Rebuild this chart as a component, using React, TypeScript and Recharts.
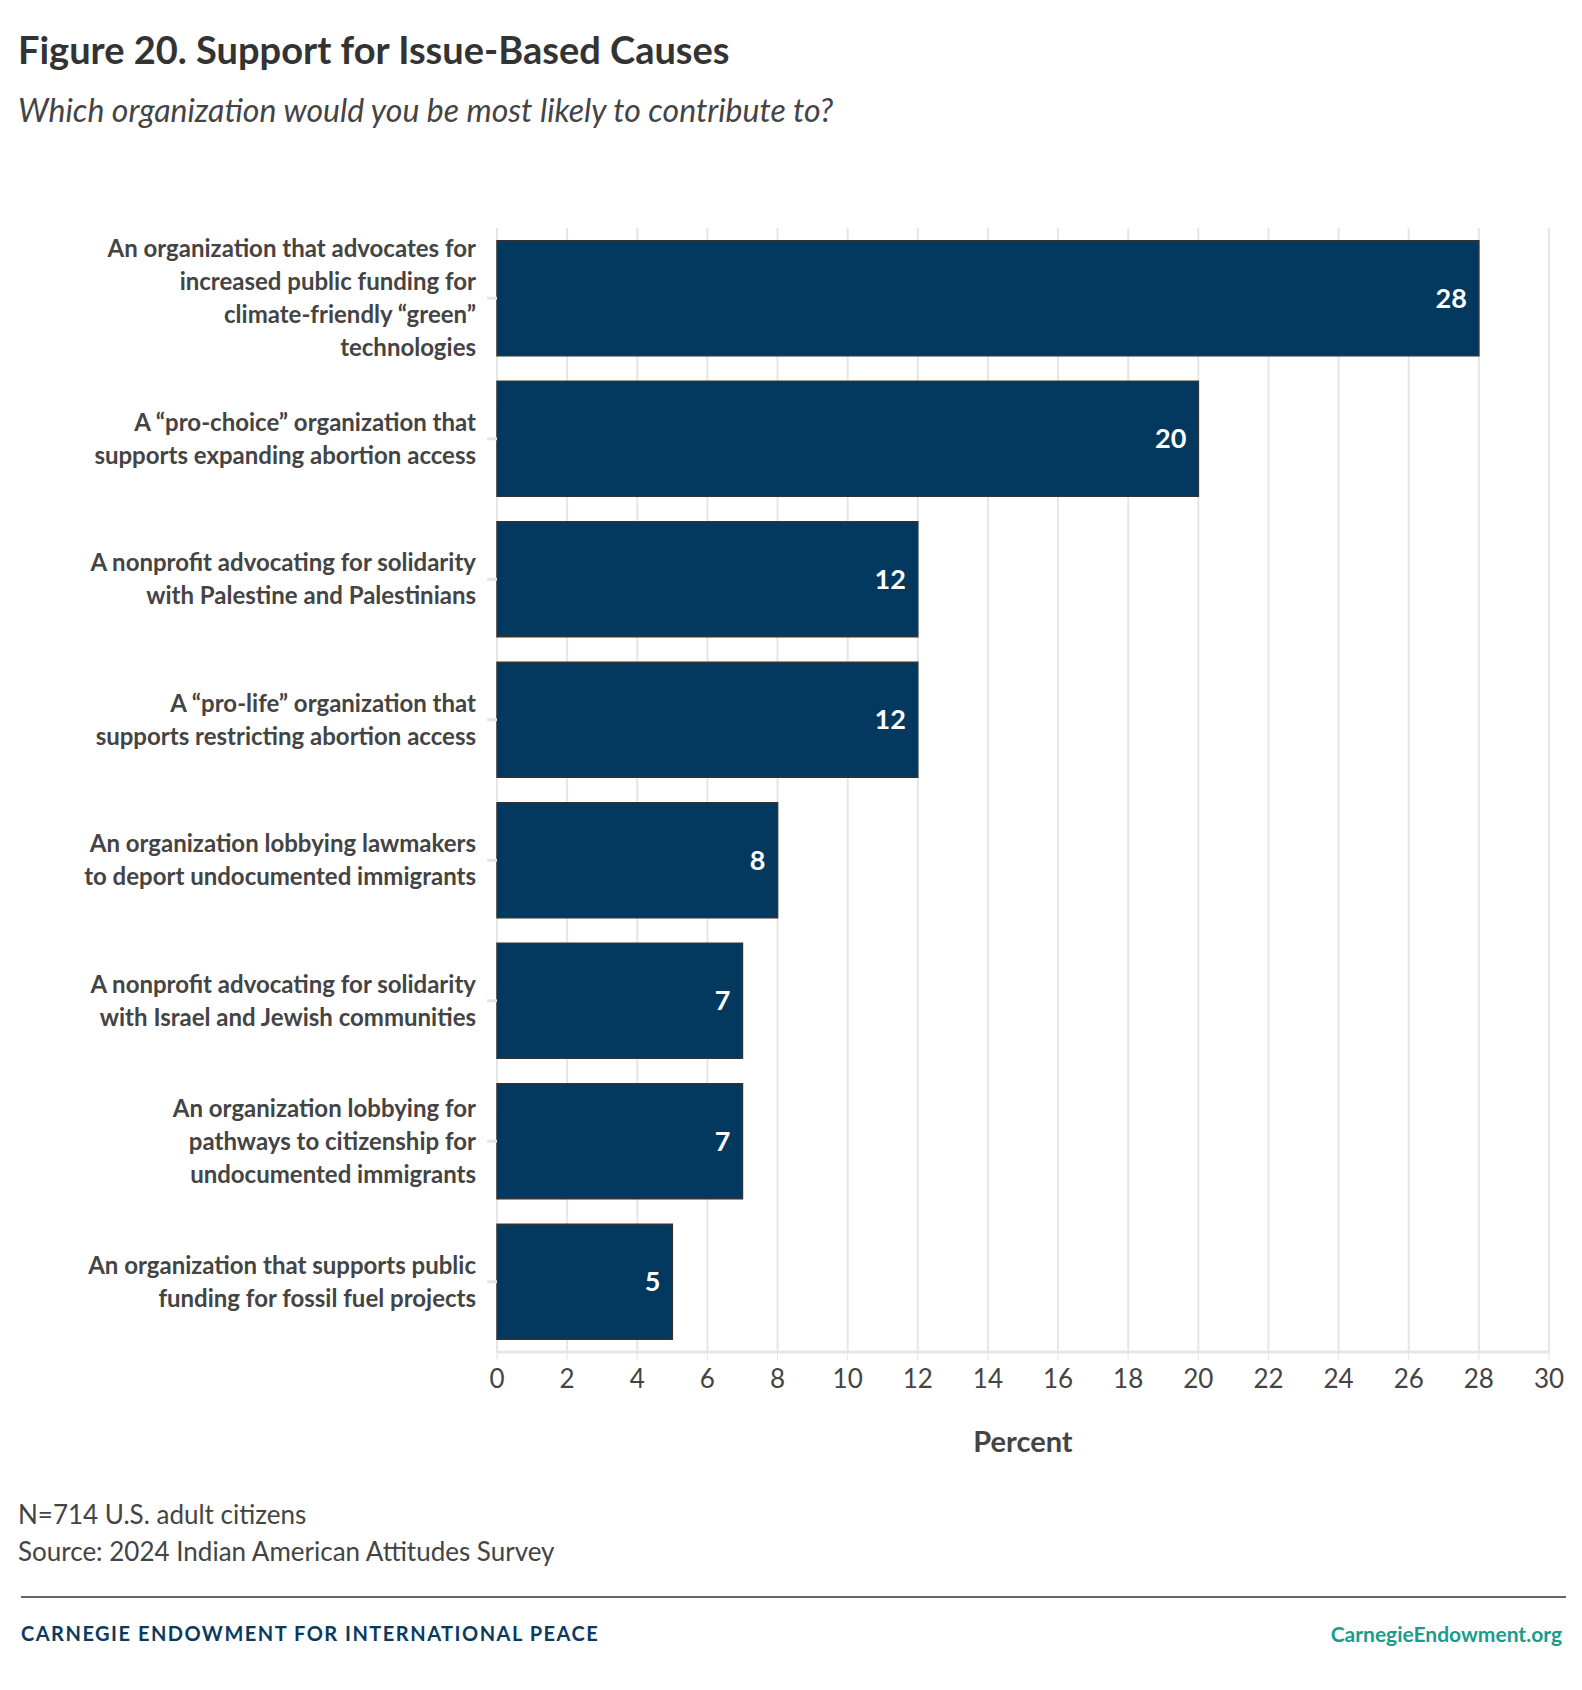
import React from 'react';
import { BarChart, Bar, XAxis, YAxis, CartesianGrid, LabelList } from 'recharts';

const categories = [
  'An organization that advocates for|increased public funding for|climate-friendly “green”|technologies',
  'A “pro-choice” organization that|supports expanding abortion access',
  'A nonprofit advocating for solidarity|with Palestine and Palestinians',
  'A “pro-life” organization that|supports restricting abortion access',
  'An organization lobbying lawmakers|to deport undocumented immigrants',
  'A nonprofit advocating for solidarity|with Israel and Jewish communities',
  'An organization lobbying for|pathways to citizenship for|undocumented immigrants',
  'An organization that supports public|funding for fossil fuel projects',
];
const values = [28, 20, 12, 12, 8, 7, 7, 5];
const xTicks = [0, 2, 4, 6, 8, 10, 12, 14, 16, 18, 20, 22, 24, 26, 28, 30];

const data = categories.map((c, i) => ({ name: c, value: values[i] }));
const font = 'Lato, "Open Sans", sans-serif';

const YTick = ({ y, payload }: any) => {
  const lines = String(payload.value).split('|');
  const lh = 33;
  const start = y - ((lines.length - 1) * lh) / 2;
  return (
    <text textAnchor="end" fontFamily={font} fontWeight={700} fontSize={24} fill="#444">
      {lines.map((l, i) => (
        <tspan key={i} x={476} y={start + i * lh} dy="0.35em">{l}</tspan>
      ))}
    </text>
  );
};

export default function App() {
  return (
    <div style={{ position: 'absolute', left: 0, top: 0, width: 1582, height: 1690, background: '#fff', fontFamily: font }}>
      <div style={{ position: 'absolute', left: 18, top: 26, fontSize: 38, fontWeight: 700, color: '#333' }}>
        Figure 20. Support for Issue-Based Causes
      </div>
      <div style={{ position: 'absolute', left: 18, top: 90, fontSize: 32, fontStyle: 'italic', color: '#444' }}>
        Which organization would you be most likely to contribute to?
      </div>
      <div style={{ position: 'absolute', left: 0, top: 0 }}>
        <BarChart width={1582} height={1460} data={data} layout="vertical" barCategoryGap="9%"
          margin={{ top: 228, right: 33, bottom: 0, left: 0 }}>
          <CartesianGrid horizontal={false} stroke="#e6e6e6" strokeWidth={2} />
          <XAxis type="number" domain={[0, 30]} ticks={xTicks} height={108}
            axisLine={{ stroke: '#e6e6e6', strokeWidth: 3 }} tickLine={{ stroke: '#e6e6e6' }} tickSize={8}
            tick={{ fill: '#444', fontSize: 26, fontFamily: font }} tickMargin={10}
            label={{ value: 'Percent', position: 'insideBottom', offset: 8, fill: '#444', fontSize: 29, fontWeight: 700, fontFamily: font }} />
          <YAxis type="category" dataKey="name" width={497} tick={<YTick />}
            axisLine={false} tickLine={{ stroke: '#e6e6e6', strokeWidth: 3 }} tickSize={10} interval={0} />
          <Bar dataKey="value" fill="#03385f" stroke="#333" strokeWidth={1.5} isAnimationActive={false}>
            <LabelList dataKey="value" position="insideRight" offset={12} fill="#fff" fontSize={27} fontWeight={700} fontFamily={font} />
          </Bar>
        </BarChart>
      </div>
      <div style={{ position: 'absolute', left: 18, top: 1496, fontSize: 26, color: '#444', lineHeight: '37px' }}>
        <div>N=714 U.S. adult citizens</div>
        <div>Source: 2024 Indian American Attitudes Survey</div>
      </div>
      <div style={{ position: 'absolute', left: 21, top: 1596, width: 1545, borderTop: '2px solid #666' }} />
      <div style={{ position: 'absolute', left: 21, top: 1621, fontSize: 20, fontWeight: 700, color: '#0b3a5f', letterSpacing: 1.5 }}>
        CARNEGIE ENDOWMENT FOR INTERNATIONAL PEACE
      </div>
      <div style={{ position: 'absolute', right: 20, top: 1621, fontSize: 21, fontWeight: 700, color: '#1a9c8c' }}>
        CarnegieEndowment.org
      </div>
    </div>
  );
}
